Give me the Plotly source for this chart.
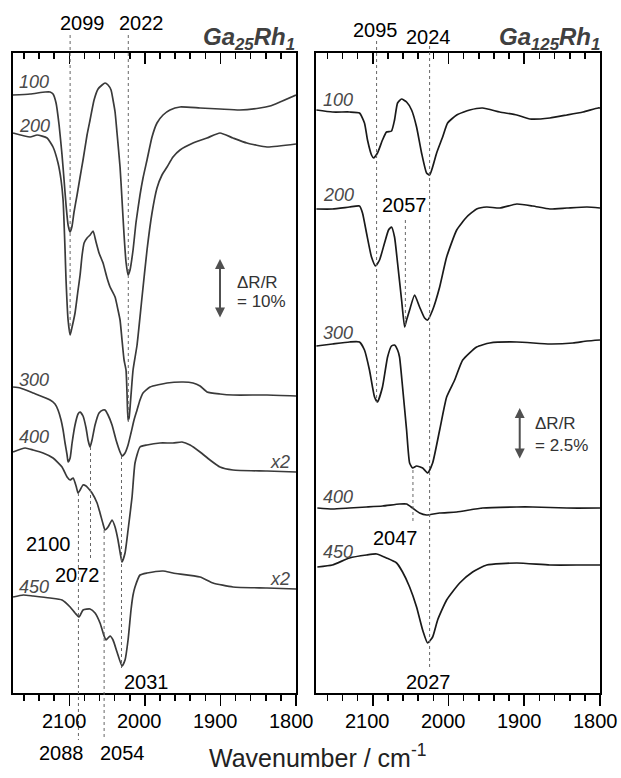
import plotly.graph_objects as go

# ---------------- data (wavenumber / cm-1, offset-stacked dR/R in a.u.) ----------------
# Left panel: Ga25Rh1
L100_wn = [2175,2152,2132,2125.5,2121.6,2117.6,2113.6,2109.7,2107,2104.4,2101.7,2099,2096.4,2093.8,2089.8,2085.8,2081.9,2076.6,2072.6,2067.3,2062,2056.7,2052.8,2048.8,2044.8,2042.2,2039.5,2036.9,2032.9,2030.3,2027.6,2025,2022.3,2019.7,2015.7,2011.7,2006.5,2002.5,1997.2,1990.6,1984,1976,1966.8,1953.5,1927,1900.6,1874.4,1847.8,1834.5,1821.3,1800]
L100_y = [598,599,601,601,599,590,568,538,513,488,468,461,467,481,498,516,533,558,573,593,604,608,610,608,603,593,581,560,526,493,458,431,418,423,443,471,498,515,533,556,570,578,583,586,585,584,583,585,587,591,598]

L200_wn = [2174.5,2152,2142.7,2129.5,2121.6,2115,2111,2108.3,2105.7,2104.4,2101.7,2099,2096.4,2092.5,2088.5,2085.8,2083.1,2080.5,2076.6,2072.6,2068.6,2064.7,2060.7,2055.4,2050.1,2046.1,2039.5,2035.6,2032.9,2030.3,2027.6,2025,2023.6,2022.3,2021,2018.4,2015.7,2010.4,2003.8,1997.2,1990.6,1984,1977.4,1970.7,1962.8,1953.5,1936.3,1917.8,1900.6,1883.4,1865,1838.4,1800]
L200_y = [560,556,558,555,546,530,513,493,443,413,373,358,366,380,403,418,438,450,455,458,462,451,440,430,415,406,396,383,373,353,333,323,298,273,275,298,323,348,396,443,480,505,518,526,536,543,550,555,560,555,550,546,549]

L300_wn = [2174.5,2165,2148,2125.5,2119,2115,2111,2108.3,2105.7,2103,2101.7,2099,2096.4,2092.5,2088.5,2085.8,2081.9,2077.9,2075.3,2072.6,2070,2066,2060.7,2055.4,2052.8,2048.8,2043.5,2038.2,2032.9,2030.3,2026.3,2022.3,2018.4,2014.4,2010.4,2006.5,2002.5,1993.2,1970.7,1949.5,1936.3,1927,1917.8,1900.6,1883.4,1838.4,1800]
L300_y = [306,305,300,293,289,283,273,263,250,238,231,235,250,268,279,281,277,265,253,246,253,268,280,283,283,278,268,253,241,237,240,248,260,273,283,293,300,306,310,311,310,307,301,299,298,298,297]

L400_wn = [2174.5,2158.6,2148,2134.8,2121.6,2109.7,2103,2099,2095,2091.1,2088.5,2085.8,2081.9,2077.9,2075.3,2070,2063.3,2059.4,2055.4,2052.8,2048.8,2043.5,2039.5,2035.6,2032.9,2030.3,2026.3,2022.3,2017,2013.1,2006.5,1997.2,1980,1962.8,1950.9,1940.2,1927,1913.8,1900.6,1883.4,1838.4,1800]
L400_y = [241,245,243,240,235,226,216,213,215,207,200,203,208,207,205,200,190,180,169,163,166,173,166,153,141,131,140,163,196,230,246,248,250,250,251,248,241,233,226,223,222,221]

L450_wn = [2174.5,2161,2148,2125.5,2109.7,2099,2092.5,2087.2,2081.9,2072.6,2066,2059.4,2054,2051.4,2046.1,2042.2,2036.9,2030.3,2026.3,2022.3,2018.4,2015.7,2013.1,2006.5,1997.2,1976,1962.8,1927,1909.9,1883.4,1838.4,1800]
L450_y = [96,98,97,95,93,86,80,76,83,84,80,70,57,53,57,53,41,27,33,53,83,98,106,118,120,122,120,116,110,106,105,104]

# Right panel: Ga125Rh1
R100_wn = [2174.5,2153.3,2130.8,2117.6,2111,2107,2101.7,2099,2093.8,2087.2,2081.9,2075.3,2071.3,2067.3,2062,2055.4,2048.8,2042.2,2035.6,2029,2025,2021,2015.7,2007.8,2001.2,1989.2,1972,1955,1932.4,1909.9,1892.6,1866.2,1843.7,1822.5,1802.6,1800]
R100_y = [583,581,581,580,570,553,538,535,540,553,561,562,573,590,594,591,583,566,540,520,518,526,540,556,570,578,583,585,581,578,574,575,578,581,585,585]

R200_wn = [2174.5,2153.3,2130.8,2117.6,2113.6,2108.3,2101.7,2096.4,2091.1,2084.5,2079.2,2075.3,2071.3,2067.3,2062,2058,2055.4,2051.4,2044.8,2038.2,2031.6,2027.6,2021,2011.7,2002.5,1989.2,1976,1962.9,1949.6,1932.4,1909.9,1888.7,1866.2,1843.7,1817.2,1800]
R200_y = [484,484,486,487,480,460,436,427,433,450,463,466,456,430,393,366,373,383,398,386,375,373,383,406,436,463,476,484,486,485,489,487,484,485,486,485]

R300_wn = [2174.5,2153.3,2130.8,2117.6,2111,2104.4,2097.7,2093.8,2087.2,2080.5,2075.3,2071.3,2067.3,2064.7,2060.7,2055.4,2051.4,2047.5,2042.2,2034.2,2027.6,2021,2011.7,2002.5,1991.9,1981.3,1962.9,1945.6,1909.9,1866.2,1835.7,1817.2,1800]
R300_y = [347,349,351,351,343,323,296,291,306,336,347,348,343,336,306,263,230,225,227,225,220,230,263,296,313,333,346,350,351,349,350,352,353]

R400_wn = [2173.2,2153.3,2130.8,2108.3,2087.2,2064.7,2055.4,2047.5,2038.2,2029,2011.7,1989.2,1955,1909.9,1888.7,1843.7,1800]
R400_y = [185,184,185,186,187,189,189,185,180,178,180,181,185,186,186,185,185]

R450_wn = [2173.2,2153.3,2130.8,2108.3,2095,2081.9,2068.6,2060.7,2051.4,2042.2,2034.2,2027.6,2021,2014.4,2002.5,1985.3,1968.2,1949.6,1909.9,1866.2,1822.5,1800]
R450_y = [126,128,135,138,139,135,130,121,106,86,63,50,56,73,93,110,121,128,130,128,128,128]

temps = ["100", "200", "300", "400", "450"]
left_series = [(L100_wn, L100_y), (L200_wn, L200_y), (L300_wn, L300_y), (L400_wn, L400_y), (L450_wn, L450_y)]
right_series = [(R100_wn, R100_y), (R200_wn, R200_y), (R300_wn, R300_y), (R400_wn, R400_y), (R450_wn, R450_y)]

x_range = [2175, 1800]
tick_vals = [2100, 2000, 1900, 1800]
tick_text = ["2100", "2000", "1900", "1800"]

# peak position markers (wavenumbers)
left_peaks_top = [2099, 2022]
left_peaks_mid = [2072, 2031]
left_peaks_bottom = [2088, 2054]
right_peaks_top = [2095, 2025]
right_peaks_mid = [2057, 2047]

FONT = "Liberation Sans, Arial, sans-serif"

# ---------------- figure ----------------
W, H = 621, 778
ML, MR, MT, MB = 12, 21, 53, 85
PW, PH = W - ML - MR, H - MT - MB


def px(xp):
    return (xp - ML) / PW


def py(yp):
    return (MT + PH - yp) / PH


fig = go.Figure()
for wn, yy in left_series:
    fig.add_trace(go.Scatter(x=wn, y=yy, mode="lines", xaxis="x", yaxis="y",
                             line=dict(color="#3a3a3a", width=1.7, shape="spline", smoothing=0.5),
                             showlegend=False, hoverinfo="skip"))
for wn, yy in right_series:
    fig.add_trace(go.Scatter(x=wn, y=yy, mode="lines", xaxis="x2", yaxis="y2",
                             line=dict(color="#1a1a1a", width=1.7, shape="spline", smoothing=0.5),
                             showlegend=False, hoverinfo="skip"))
# carriers for the top (inside-tick) axes
fig.add_trace(go.Scatter(x=[L100_wn[0]], y=[L100_y[0]], xaxis="x3", yaxis="y", mode="markers",
                         marker=dict(opacity=0), showlegend=False, hoverinfo="skip"))
fig.add_trace(go.Scatter(x=[R100_wn[0]], y=[R100_y[0]], xaxis="x4", yaxis="y2", mode="markers",
                         marker=dict(opacity=0), showlegend=False, hoverinfo="skip"))

dom_l = [px(12.7), px(296)]
dom_r = [px(316), px(600)]

xbase = dict(range=x_range, tickvals=tick_vals, showline=True, linewidth=2, linecolor="black",
             mirror=True, ticks="outside", ticklen=11, tickwidth=1.6, tickcolor="black",
             minor=dict(dtick=20, tick0=2100, ticks="outside", ticklen=6, tickwidth=1.6, tickcolor="black"),
             showgrid=False, zeroline=False, showticklabels=False)
xtop = dict(range=x_range, tickvals=tick_vals, showline=False, side="top",
            ticks="inside", ticklen=11, tickwidth=1.6, tickcolor="black",
            minor=dict(dtick=20, tick0=2100, ticks="inside", ticklen=6, tickwidth=1.6, tickcolor="black"),
            showticklabels=False, showgrid=False, zeroline=False)
ybase = dict(range=[0, 640], showline=True, linewidth=2, linecolor="black", mirror=True,
             ticks="", showticklabels=False, showgrid=False, zeroline=False)

fig.update_layout(
    width=W, height=H, margin=dict(l=ML, r=MR, t=MT, b=MB),
    paper_bgcolor="white", plot_bgcolor="white",
    xaxis=dict(domain=dom_l, anchor="y", **xbase),
    xaxis2=dict(domain=dom_r, anchor="y2", **xbase),
    xaxis3=dict(domain=dom_l, anchor="y", overlaying="x", **xtop),
    xaxis4=dict(domain=dom_r, anchor="y2", overlaying="x2", **xtop),
    yaxis=dict(domain=[0, 1], anchor="x", **ybase),
    yaxis2=dict(domain=[0, 1], anchor="x2", **ybase),
)

# tick labels placed at the axis values (slightly left of each tick, as in the original)
for xr in ("x", "x2"):
    for v, t in zip(tick_vals, tick_text):
        fig.add_annotation(text=t, x=v, y=py(721), xref=xr, yref="paper", xshift=-5,
                           xanchor="center", yanchor="middle", showarrow=False,
                           font=dict(family=FONT, size=20, color="black"))

# dotted peak lines (x in data, y extents in paper)
dot = dict(color="#666666", width=1, dash="dot")
line_specs = [
    ("x", left_peaks_top[0], 35, 335),
    ("x", left_peaks_top[1], 35, 422),
    ("x", left_peaks_mid[0], 447, 560),
    ("x", left_peaks_mid[1], 456, 668),
    ("x", left_peaks_bottom[0], 493, 740),
    ("x", left_peaks_bottom[1], 530, 740),
    ("x2", right_peaks_top[0], 41, 402),
    ("x2", right_peaks_top[1], 46, 670),
    ("x2", right_peaks_mid[0], 220, 327),
    ("x2", right_peaks_mid[1], 470, 523),
]
for xr, wn, ya, yb in line_specs:
    fig.add_shape(type="line", xref=xr, yref="paper", x0=wn, x1=wn, y0=py(ya), y1=py(yb),
                  line=dot, layer="above")


def label(text, xp, yp, size=20, color="black", xanchor="center", italic=False, bold=False,
          yanchor="middle"):
    t = text
    if italic:
        t = "<i>" + t + "</i>"
    if bold:
        t = "<b>" + t + "</b>"
    fig.add_annotation(text=t, x=px(xp), y=py(yp), xref="paper", yref="paper",
                       xanchor=xanchor, yanchor=yanchor, showarrow=False,
                       font=dict(family=FONT, size=size, color=color))


# peak labels
label("2099", 82, 23)
label("2022", 141, 23)
label("2100", 48, 544)
label("2072", 77, 575)
label("2031", 146, 682)
label("2088", 61, 753)
label("2054", 122, 753)
label("2095", 375, 30)
label("2024", 428, 37)
label("2057", 404, 205)
label("2047", 396, 538)
label("2027", 428, 682)

# temperature labels
for t, yy in zip(temps, [82, 126, 380, 437, 587]):
    label(t, 17, yy, size=18, color="#4a4a4a", xanchor="left", italic=True)
for t, yy in zip(temps, [100, 195, 333, 497, 552]):
    label(t, 321, yy, size=18, color="#4a4a4a", xanchor="left", italic=True)
label("x2", 292, 462, size=18, color="#4a4a4a", xanchor="right", italic=True)
label("x2", 292, 579, size=18, color="#4a4a4a", xanchor="right", italic=True)

# sample titles
label("Ga<sub>25</sub>Rh<sub>1</sub>", 297, 38, size=24, color="#404040", xanchor="right", italic=True, bold=True)
label("Ga<sub>125</sub>Rh<sub>1</sub>", 602, 38, size=24, color="#404040", xanchor="right", italic=True, bold=True)

# scale bars
fig.add_annotation(x=1900.6, y=434, ax=1900.6, ay=374, xref="x", yref="y", axref="x", ayref="y",
                   text="", showarrow=True, arrowhead=2, arrowside="end+start", arrowsize=1,
                   arrowwidth=2, arrowcolor="#505050", standoff=0, startstandoff=0)
label("\u0394R/R", 235, 282, size=17, color="#333333", xanchor="left")
label("= 10%", 235, 301, size=17, color="#333333", xanchor="left")

fig.add_annotation(x=1906, y=285, ax=1906, ay=233, xref="x2", yref="y2", axref="x2", ayref="y2",
                   text="", showarrow=True, arrowhead=2, arrowside="end+start", arrowsize=1,
                   arrowwidth=2, arrowcolor="#505050", standoff=0, startstandoff=0)
label("\u0394R/R", 533, 423, size=17, color="#333333", xanchor="left")
label("= 2.5%", 533, 445, size=17, color="#333333", xanchor="left")

# axis title
label("Wavenumber / cm<sup>-1</sup>", 317, 774, size=25, color="#222222", yanchor="bottom")

# remove the default page margin so the 621x778 figure fills the window exactly; hide the modebar
fig.write_html("out.html",
               config={"displayModeBar": False, "staticPlot": True},
               post_script="document.body.style.margin='0';document.body.style.overflow='hidden';")
